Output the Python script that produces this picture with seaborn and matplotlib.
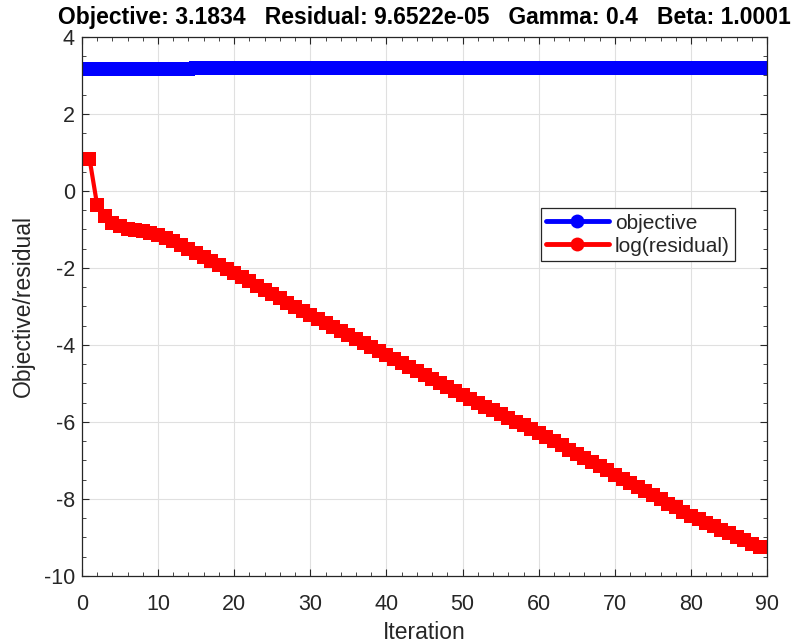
import numpy as np
import pandas as pd
import matplotlib
matplotlib.use("Agg")
import matplotlib.pyplot as plt
from matplotlib.ticker import MultipleLocator
import seaborn as sns

# Iteration history of the solver
iterations = list(range(1, 90))

objective = [3.157] * 14 + [3.1834] * 75

log_residual = [
    0.84, -0.36, -0.66, -0.82, -0.92, -0.99, -1.02, -1.03, -1.08, -1.14,
    -1.22, -1.31, -1.41, -1.52, -1.61, -1.72, -1.82, -1.91, -2.03, -2.13,
    -2.24, -2.35, -2.46, -2.57, -2.68, -2.79, -2.90, -3.01, -3.12, -3.23,
    -3.33, -3.43, -3.53, -3.64, -3.74, -3.84, -3.94, -4.05, -4.15, -4.26,
    -4.36, -4.47, -4.57, -4.68, -4.78, -4.88, -4.99, -5.09, -5.20, -5.30,
    -5.40, -5.50, -5.60, -5.69, -5.79, -5.89, -5.99, -6.09, -6.18, -6.28,
    -6.39, -6.50, -6.61, -6.72, -6.83, -6.93, -7.04, -7.15, -7.26, -7.37,
    -7.48, -7.58, -7.69, -7.80, -7.90, -8.01, -8.12, -8.22, -8.33, -8.44,
    -8.53, -8.62, -8.71, -8.80, -8.89, -8.98, -9.07, -9.16, -9.25,
]

series_names = ["objective", "log(residual)"]
series_colors = ["#0000ff", "#ff0000"]

title_text = "Objective: 3.1834   Residual: 9.6522e-05   Gamma: 0.4   Beta: 1.0001"

x_ticks = [0, 10, 20, 30, 40, 50, 60, 70, 80, 90]
y_ticks = [-10, -8, -6, -4, -2, 0, 2, 4]

df = pd.DataFrame({
    "Iteration": iterations * 2,
    "value": objective + log_residual,
    "series": [series_names[0]] * len(iterations) + [series_names[1]] * len(iterations),
})

sns.set_style("white")
plt.rcParams["font.family"] = ["Liberation Sans", "DejaVu Sans"]
plt.rcParams["axes.unicode_minus"] = False

fig = plt.figure(figsize=(7.95, 6.44), dpi=100)
ax = fig.add_axes([0.103, 0.1056, 0.862, 0.837])

sns.lineplot(
    data=df, x="Iteration", y="value", hue="series",
    palette=dict(zip(series_names, series_colors)),
    marker="s", markersize=9.5, markeredgewidth=0, linewidth=3,
    ax=ax, legend=True,
)

ax.set_xlim(0, 90)
ax.set_ylim(-10, 4)
ax.set_xticks(x_ticks)
ax.set_yticks(y_ticks)
ax.xaxis.set_minor_locator(MultipleLocator(2))
ax.yaxis.set_minor_locator(MultipleLocator(0.5))
ax.grid(True, which="major", color="#e0e0e0", linewidth=0.8)
ax.set_axisbelow(True)

ax.tick_params(which="both", direction="in", top=True, right=True,
               bottom=True, left=True, colors="#262626", labelsize=15.5)
ax.tick_params(which="major", length=5, width=0.8)
ax.tick_params(which="minor", length=3, width=0.6)
ax.tick_params(axis="x", which="major", pad=13)
ax.tick_params(axis="y", which="major", pad=5)
for s in ax.spines.values():
    s.set_color("#262626")
    s.set_linewidth(0.9)

ax.set_xlabel("Iteration", fontsize=16.5, color="#262626", labelpad=4)
ax.set_ylabel("Objective/residual", fontsize=16.5, color="#262626", labelpad=6)
ax.set_title(title_text, fontsize=16.5, fontweight="bold", color="black", pad=9)

leg = ax.legend(loc="upper left", bbox_to_anchor=(0.67, 0.682), fontsize=15,
                frameon=True, fancybox=False, framealpha=1, edgecolor="#262626",
                handlelength=3.0, borderpad=0.25, labelspacing=0.2,
                handletextpad=0.3, borderaxespad=0)
leg.get_frame().set_linewidth(0.9)
for h in leg.legend_handles:
    h.set_marker("o")
    h.set_markersize(10)
    h.set_linewidth(3.5)

fig.savefig("out.png", dpi=100)
